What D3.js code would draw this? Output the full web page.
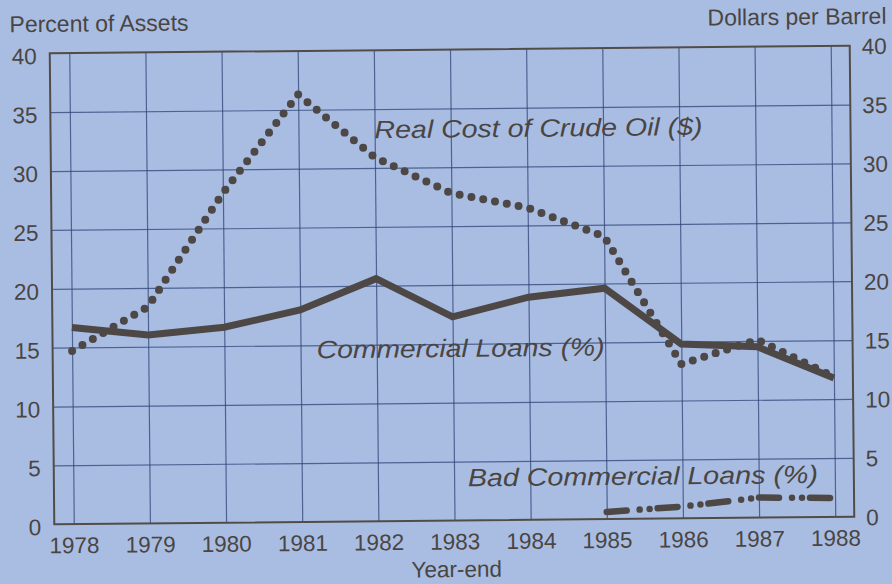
<!DOCTYPE html>
<html>
<head>
<meta charset="utf-8">
<script src="https://cdn.jsdelivr.net/npm/d3@7"></script>
<style>
body{margin:0;background:#a9bde2;}
svg{display:block;}
text{font-family:"Liberation Sans",Arial,Helvetica,sans-serif;fill:#4a4543;}
</style>
</head>
<body>
<svg id="chart"></svg>
<script>
// values (year-end)
var years = [1978,1979,1980,1981,1982,1983,1984,1985,1986,1987,1988];
var commercialLoans = [16.7,16.0,16.6,18.0,20.6,17.3,18.9,19.6,14.8,14.5,11.8];
var oilPrice = [14.7,18.4,28.0,36.3,30.9,27.8,26.5,24.0,13.1,15.1,11.9];
var badYears = [1985,1986,1987,1988];
var badLoans = [0.6,1.0,1.7,1.6];
var percentTicks = [0,5,10,15,20,25,30,35,40];
var dollarTicks = [0,5,10,15,20,25,30,35,40];

var width = 892;
var height = 584;
var plotLeft = 52, plotRight = 852, plotTop = 49.5, plotBottom = 520.5;

var svg = d3.select("#chart")
        .attr("width",width)
        .attr("height",height)

svg.append("rect")
    .attr("width",width)
    .attr("height",height)
    .attr("fill","#a9bde2")

// the printed page sits a little crooked in the photo
var g = svg.append("g")
        .attr("transform","rotate(-0.55,452,285)")

var xScale = d3.scaleLinear()
            .domain([1978,1988])
            .range([71.5,833])

var yScale = d3.scaleLinear()
            .domain([0,40])
            .range([plotBottom,plotTop])

var yRight = d3.scaleLinear()
            .domain([0,40])
            .range([plotBottom,plotTop])

//grid
var gridColor = "#2f4477";

g.append("g")
    .attr("transform","translate(0,"+plotBottom+")")
    .call(d3.axisBottom(xScale).tickValues(years).tickSize(-(plotBottom-plotTop)).tickFormat(""))
    .call(function(a){
        a.select(".domain").remove();
        a.selectAll("line").attr("stroke",gridColor).attr("stroke-width",1.2).attr("opacity",0.75);
    })

g.append("g")
    .attr("transform","translate("+plotLeft+",0)")
    .call(d3.axisLeft(yScale).tickValues(percentTicks.slice(1,-1)).tickSize(-(plotRight-plotLeft)).tickFormat(""))
    .call(function(a){
        a.select(".domain").remove();
        a.selectAll("line").attr("stroke",gridColor).attr("stroke-width",1.2).attr("opacity",0.75);
    })

//frame
g.append("rect")
    .attr("x",plotLeft)
    .attr("y",plotTop)
    .attr("width",plotRight-plotLeft)
    .attr("height",plotBottom-plotTop)
    .attr("fill","none")
    .attr("stroke","#524c48")
    .attr("stroke-width",2)

//axis labels
var styleTicks = function(a, dy){
    a.select(".domain").remove();
    a.selectAll("text").attr("font-size",22.5).attr("fill","#4a4543")
        .style("font-family","'Liberation Sans',Arial,sans-serif");
    if(dy) a.selectAll("text").attr("dy",dy);
}

g.append("g")
    .attr("transform","translate(0,"+plotBottom+")")
    .call(d3.axisBottom(xScale).tickValues(years).tickFormat(d3.format("d")).tickSize(0).tickPadding(13))
    .call(styleTicks)

g.append("g")
    .attr("transform","translate("+plotLeft+",0)")
    .call(d3.axisLeft(yScale).tickValues(percentTicks).tickSize(0).tickPadding(13))
    .call(styleTicks,"0.45em")

g.append("g")
    .attr("transform","translate("+plotRight+",0)")
    .call(d3.axisRight(yRight).tickValues(dollarTicks).tickSize(0).tickPadding(12))
    .call(styleTicks,"0.36em")

g.append("text")
    .attr("x",12)
    .attr("y",28)
    .attr("font-size",23)
    .text("Percent of Assets")

g.append("text")
    .attr("x",889)
    .attr("y",28)
    .attr("font-size",23)
    .attr("text-anchor","end")
    .text("Dollars per Barrel")

g.append("text")
    .attr("x",454)
    .attr("y",577)
    .attr("font-size",22.5)
    .attr("text-anchor","middle")
    .text("Year-end")

//lines
var lineColor = "#4d4846";

var line = d3.line()
        .x(function(d){return xScale(d[0])})

g.append("path")
    .datum(d3.zip(years,commercialLoans))
    .attr("d",line.y(function(d){return yScale(d[1])}))
    .attr("fill","none")
    .attr("stroke",lineColor)
    .attr("stroke-width",7)

g.append("path")
    .datum(d3.zip(years,oilPrice))
    .attr("d",line.y(function(d){return yRight(d[1])}))
    .attr("fill","none")
    .attr("stroke",lineColor)
    .attr("stroke-width",8)
    .attr("stroke-linecap","round")
    .attr("stroke-dasharray","0 12")

g.append("path")
    .datum(d3.zip(badYears,badLoans))
    .attr("d",line.y(function(d){return yScale(d[1])}))
    .attr("fill","none")
    .attr("stroke",lineColor)
    .attr("stroke-width",6.5)
    .attr("stroke-linecap","round")
    .attr("stroke-dasharray","20 13 0 10 0 8")

//series labels
var labels = [
    {text:"Real Cost of Crude Oil ($)", x:376, y:137.5, len:328},
    {text:"Commercial Loans (%)", x:316, y:357, len:288},
    {text:"Bad Commercial Loans (%)", x:466, y:486.5, len:350}
]

g.selectAll(".series-label")
    .data(labels)
    .enter()
    .append("text")
    .attr("class","series-label")
    .attr("x",function(d){return d.x})
    .attr("y",function(d){return d.y})
    .attr("font-size",25)
    .attr("font-style","italic")
    .attr("textLength",function(d){return d.len})
    .attr("lengthAdjust","spacingAndGlyphs")
    .text(function(d){return d.text})
</script>
</body>
</html>
